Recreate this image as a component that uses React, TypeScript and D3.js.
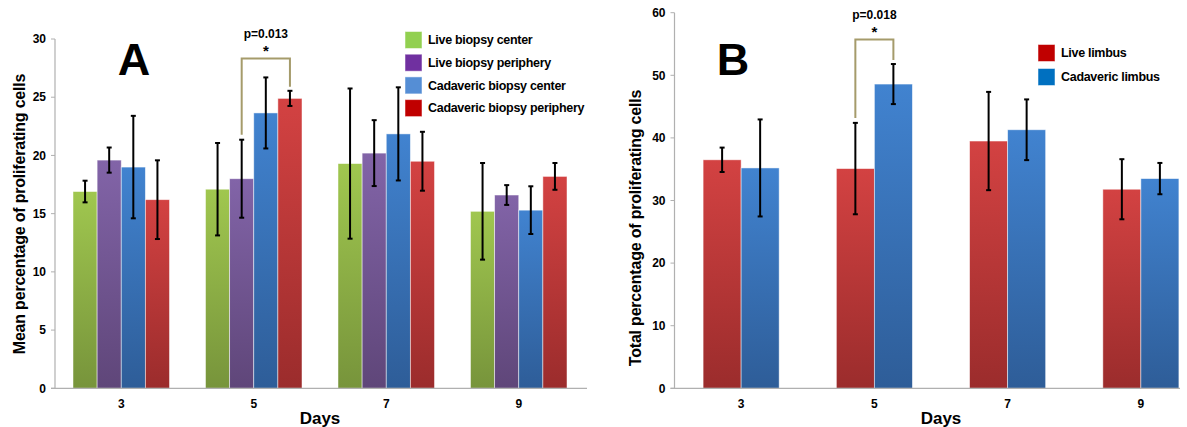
import React from 'react';
import * as d3 from 'd3';

// Days on the x axis (shared by both panels)
const days = ['3', '5', '7', '9'];

// Panel A: mean percentage of proliferating cells
const seriesA = ['Live biopsy center', 'Live biopsy periphery', 'Cadaveric biopsy center', 'Cadaveric biopsy periphery'];
const liveCenter = [16.9, 17.1, 19.3, 15.2];
const liveCenterErr = [0.93, 3.97, 6.45, 4.15];
const livePeriphery = [19.6, 18.0, 20.2, 16.6];
const livePeripheryErr = [1.08, 3.35, 2.83, 0.85];
const cadCenter = [19.0, 23.65, 21.85, 15.3];
const cadCenterErr = [4.4, 3.05, 4.0, 2.05];
const cadPeriphery = [16.2, 24.9, 19.5, 18.2];
const cadPeripheryErr = [3.38, 0.65, 2.53, 1.15];
const ticksA = [0, 5, 10, 15, 20, 25, 30];

// Panel B: total percentage of proliferating cells
const seriesB = ['Live limbus', 'Cadaveric limbus'];
const liveLimbus = [36.5, 35.1, 39.5, 31.8];
const liveLimbusErr = [1.95, 7.3, 7.85, 4.8];
const cadLimbus = [35.2, 48.6, 41.3, 33.5];
const cadLimbusErr = [7.75, 3.2, 4.85, 2.5];
const ticksB = [0, 10, 20, 30, 40, 50, 60];

const FONT = 'Arial, "Liberation Sans", sans-serif';

// bar gradients (top, bottom) and legend swatch colours
const gradA = [['#a0c74f', '#77943b'], ['#8264a8', '#5f4679'], ['#4183d0', '#2e5d98'], ['#d34242', '#9b2c2c']];
const swatchA = ['#92d050', '#7030a0', '#558ed5', '#c00000'];
const gradB = [gradA[3], gradA[2]];
const swatchB = ['#c00000', '#0070c0'];

type Panel = {
  id: string;
  letter: string;
  left: number;
  right: number;
  axisEnd: number;
  ymax: number;
  yTop: number;
  ticks: number[];
  values: number[][];
  errors: number[][];
  grads: string[][];
  names: string[];
  swatches: string[];
  legendX: number;
  legendY: number;
  legendStep: number;
  padding: number;
  yLabel: string;
  yLabelX: number;
  yLabelY: number;
  letterX: number;
  pText: string;
  bracketTop: number;
  bracketPair: number[];
};

const bottom = 388.3;

const ChartPanel = ({ p }: { p: Panel }) => {
  const x = d3.scaleBand().domain(days).range([p.left, p.right]);
  const inner = d3.scaleBand().domain(d3.range(p.values.length).map(String))
    .range([p.padding, x.bandwidth() - p.padding]);
  const y = d3.scaleLinear().domain([0, p.ymax]).range([bottom, p.yTop]);

  // significance bracket on day 5
  const bx = (s: number) => (x('5') as number) + (inner(String(s)) as number) + inner.bandwidth() / 2;
  const [s1, s2] = p.bracketPair;
  const l1 = y(p.values[s1][1] + p.errors[s1][1]) - 5;
  const l2 = y(p.values[s2][1] + p.errors[s2][1]) - 4;
  const midX = (bx(s1) + bx(s2)) / 2;

  return (
    <g>
      <defs>
        {p.grads.map((g, i) => (
          <linearGradient key={i} id={`g${p.id}${i}`} x1="0" y1="0" x2="0" y2="1">
            <stop offset="0" stopColor={g[0]} />
            <stop offset="1" stopColor={g[1]} />
          </linearGradient>
        ))}
      </defs>

      {/* y ticks */}
      {p.ticks.map(t => (
        <g key={t}>
          <line x1={p.left - 4} x2={p.left} y1={y(t)} y2={y(t)} stroke="#b0b0b0" />
          <text x={p.left - 9} y={y(t)} dy="0.35em" textAnchor="end" fontSize={12} fontWeight="bold" fontFamily={FONT}>{t}</text>
        </g>
      ))}
      <line x1={p.left} x2={p.left} y1={y(p.ymax)} y2={bottom} stroke="#b0b0b0" strokeWidth={1.2} />

      {/* bars */}
      {days.map((d, di) => (
        <g key={d} transform={`translate(${x(d)},0)`}>
          {p.values.map((vals, si) => (
            <rect key={si}
              x={inner(String(si))}
              y={y(vals[di])}
              width={inner.bandwidth()}
              height={bottom - y(vals[di])}
              fill={`url(#g${p.id}${si})`}
              stroke="#ffffff" strokeOpacity={0.6} strokeWidth={0.8} />
          ))}
        </g>
      ))}
      <line x1={p.left - 4} x2={p.axisEnd} y1={bottom} y2={bottom} stroke="#b0b0b0" strokeWidth={1.2} />

      {/* error bars */}
      {days.map((d, di) => p.values.map((vals, si) => {
        const cx = (x(d) as number) + (inner(String(si)) as number) + inner.bandwidth() / 2;
        const hi = y(vals[di] + p.errors[si][di]);
        const lo = y(vals[di] - p.errors[si][di]);
        return (
          <g key={`${d}-${si}`} stroke="#000">
            <line x1={cx} x2={cx} y1={hi} y2={lo} strokeWidth={2} />
            <line x1={cx - 2.5} x2={cx + 2.5} y1={hi} y2={hi} strokeWidth={2} />
            <line x1={cx - 2.5} x2={cx + 2.5} y1={lo} y2={lo} strokeWidth={2} />
          </g>
        );
      }))}

      {/* x tick labels */}
      {days.map(d => (
        <text key={d} x={(x(d) as number) + x.bandwidth() / 2} y={408} textAnchor="middle" fontSize={12} fontWeight="bold" fontFamily={FONT}>{d}</text>
      ))}
      <text x={(p.left + p.right) / 2} y={424} textAnchor="middle" fontSize={17} fontWeight="bold" fontFamily={FONT}>Days</text>

      {/* y label */}
      <text transform={`translate(${p.yLabelX},${p.yLabelY}) rotate(-90)`} textAnchor="middle" dy="0.35em"
        fontSize={16} fontWeight="bold" fontFamily={FONT} letterSpacing={-0.2}>{p.yLabel}</text>

      {/* panel letter */}
      <text x={p.letterX} y={75} textAnchor="middle" fontSize={45} fontWeight="bold" fontFamily={FONT}>{p.letter}</text>

      {/* significance */}
      <path d={`M${bx(s1)},${l1}V${p.bracketTop}H${bx(s2)}V${l2}`} fill="none" stroke="#a59b6b" strokeWidth={2} />
      <text x={midX} y={p.bracketTop - 3} textAnchor="middle" fontSize={15} fontWeight="bold" fontFamily={FONT}>*</text>
      <text x={midX} y={p.bracketTop - 21} textAnchor="middle" fontSize={12} fontWeight="bold" fontFamily={FONT}>{p.pText}</text>

      {/* legend */}
      {p.names.map((n, i) => (
        <g key={n} transform={`translate(${p.legendX},${p.legendY + i * p.legendStep})`}>
          <rect x={0} y={-8.5} width={17} height={17} fill={p.swatches[i]} stroke="#ffffff" strokeOpacity={0.5} />
          <text x={23} y={0} dy="0.35em" fontSize={12.5} fontWeight="bold" fontFamily={FONT} letterSpacing={-0.3}>{n}</text>
        </g>
      ))}
    </g>
  );
};

const panelA: Panel = {
  id: 'A', letter: 'A', left: 55, right: 585, axisEnd: 587, ymax: 30, yTop: 39, ticks: ticksA,
  values: [liveCenter, livePeriphery, cadCenter, cadPeriphery],
  errors: [liveCenterErr, livePeripheryErr, cadCenterErr, cadPeripheryErr],
  grads: gradA, names: seriesA, swatches: swatchA,
  legendX: 405, legendY: 40, legendStep: 22.7, padding: 18,
  yLabel: 'Mean percentage of proliferating cells', yLabelX: 19.5, yLabelY: 214,
  letterX: 134, pText: 'p=0.013', bracketTop: 58.5, bracketPair: [1, 3],
};

const panelB: Panel = {
  id: 'B', letter: 'B', left: 674.5, right: 1207.5, axisEnd: 1180, ymax: 60, yTop: 12.7, ticks: ticksB,
  values: [liveLimbus, cadLimbus],
  errors: [liveLimbusErr, cadLimbusErr],
  grads: gradB, names: seriesB, swatches: swatchB,
  legendX: 1038, legendY: 53, legendStep: 24, padding: 28.6,
  yLabel: 'Total percentage of proliferating cells', yLabelX: 635, yLabelY: 228,
  letterX: 733, pText: 'p=0.018', bracketTop: 39.5, bracketPair: [0, 1],
};

export default function App() {
  return (
    <div style={{ position: 'absolute', left: 0, top: 0 }}>
      <svg width={1187} height={427} style={{ display: 'block', background: '#fff' }}>
        <ChartPanel p={panelA} />
        <ChartPanel p={panelB} />
      </svg>
    </div>
  );
}
